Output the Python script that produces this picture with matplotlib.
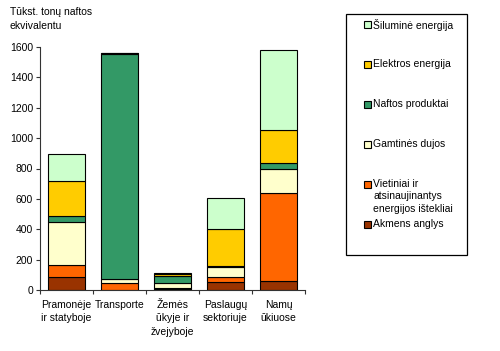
import matplotlib
matplotlib.use("Agg")
import matplotlib.pyplot as plt
from matplotlib.patches import Rectangle
import numpy as np

plt.rcParams['font.family'] = ['Liberation Sans', 'DejaVu Sans']

categories = ["Pramonėje\nir statyboje", "Transporte", "Žemės\nūkyje ir\nžvejyboje",
              "Paslaugų\nsektoriuje", "Namų\nūkiuose"]
series_names = ["Akmens anglys", "Vietiniai ir\natsinaujinantys\nenergijos ištekliai",
                "Gamtinės dujos", "Naftos produktai", "Elektros energija", "Šiluminė energija"]
akmens = [86, 0, 5, 53, 59]
vietiniai = [79, 46, 8, 33, 579]
gamtines = [283, 26, 30, 65, 159]
naftos = [39, 1483, 50, 7, 39]
elektros = [230, 8, 14, 242, 217]
silumine = [178, 0, 5, 205, 527]
values = [akmens, vietiniai, gamtines, naftos, elektros, silumine]
colors = ["#993300", "#FF6600", "#FFFFCC", "#339966", "#FFCC00", "#CCFFCC"]
yticks = [0, 200, 400, 600, 800, 1000, 1200, 1400, 1600]
ylabel = "Tūkst. tonų naftos\nekvivalentu"

W, H = 500, 351
fig = plt.figure(figsize=(W/100, H/100), dpi=100)
ax = fig.add_axes([40/W, 1-290/H, 265/W, 243/H])

x = np.arange(len(categories))
bottom = np.zeros(len(categories))
for vals, col in zip(values, colors):
    ax.bar(x, vals, bottom=bottom, width=0.68, color=col, edgecolor='black', linewidth=0.8)
    bottom += np.array(vals)

ax.set_xlim(-0.5, len(categories)-0.5)
ax.set_ylim(0, 1600)
ax.set_yticks(yticks)
ax.tick_params(axis='y', labelsize=7.5, length=3, width=0.8, direction='out', pad=2, color='#333333')
ax.set_xticks(np.arange(len(categories)+1)-0.5)
ax.set_xticklabels([])
ax.set_xticks(x, minor=True)
ax.set_xticklabels(categories, minor=True, fontsize=7.5, linespacing=1.45)
ax.tick_params(axis='x', which='major', length=3, width=0.8, direction='out', color='#333333')
ax.tick_params(axis='x', which='minor', length=0, pad=7)
for s in ['top', 'right']:
    ax.spines[s].set_visible(False)
for s in ['left', 'bottom']:
    ax.spines[s].set_color('#333333')
    ax.spines[s].set_linewidth(0.8)

fig.text(10/W, 1-7/H, ylabel, fontsize=7.5, va='top', ha='left', linespacing=1.55)

# legend box
fig.patches.append(Rectangle((346/W, 1-255/H), 121/W, 241/H, transform=fig.transFigure,
                             facecolor='white', edgecolor='black', linewidth=0.9))
order = list(range(len(series_names)))[::-1]
for i, idx in enumerate(order):
    yc = 24 + 40*i
    fig.patches.append(Rectangle((364/W, 1-(yc+3.5)/H), 6.5/W, 6.5/H, transform=fig.transFigure,
                                 facecolor=colors[idx], edgecolor='black', linewidth=0.8))
    fig.text(373/W, 1-(yc-5)/H, series_names[idx], fontsize=7.5, va='top', ha='left',
             linespacing=1.3)

fig.savefig("out.png", dpi=100)
